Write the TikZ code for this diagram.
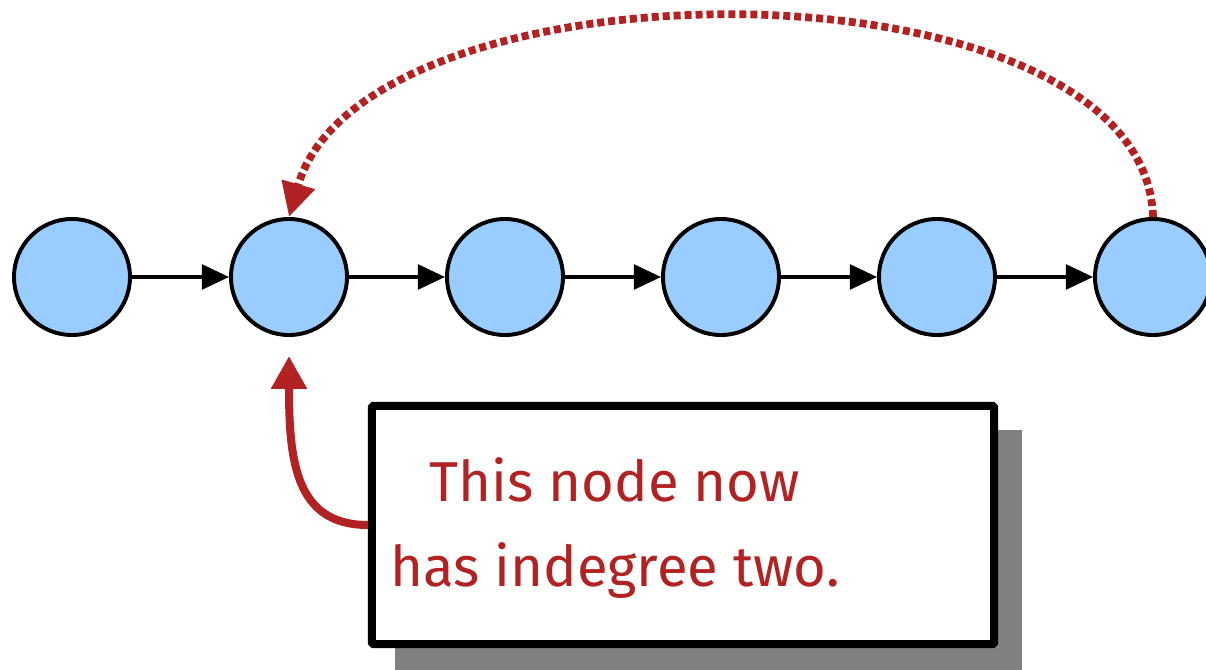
\documentclass[tikz,border=0pt]{standalone}
\usepackage{fontspec}
\setmainfont{Fira Sans}
\usetikzlibrary{arrows.meta}
\definecolor{nodeblue}{HTML}{99CCFF}
\definecolor{callred}{HTML}{B22222}
\definecolor{shadowgray}{HTML}{808080}
\begin{document}
\begin{tikzpicture}[x=0.025cm,y=-0.025cm,
  vert/.style={circle,draw=black,line width=2.8pt,fill=nodeblue,minimum size=2.9cm,inner sep=0pt},
  edge/.style={line width=2.5pt,-{Triangle[length=0.68cm,width=0.62cm]}},
  back/.style={callred,line width=5.5pt,dash pattern=on 5pt off 2.8pt,-{Triangle[length=0.85cm,width=0.82cm]}},
  callout/.style={draw=black,line width=5.7pt,fill=white,minimum width=15.55cm,minimum height=5.95cm,inner sep=0pt,rounded corners=1pt},
  pointer/.style={callred,line width=5.7pt,-{Triangle[length=0.82cm,width=0.85cm]}},
  calltext/.style={text=callred,font=\fontsize{40}{61}\selectfont,align=center}
]
\useasboundingbox (0,0) rectangle (1206,670);
\clip (0,0) rectangle (1206,670);
\node[vert] (n1) at (72,277) {};
\node[vert] (n2) at (289,277) {};
\node[vert] (n3) at (505,277) {};
\node[vert] (n4) at (721,277) {};
\node[vert] (n5) at (937,277) {};
\node[vert] (n6) at (1153,277) {};
\draw[edge] (n1) -- (n2);
\draw[edge] (n2) -- (n3);
\draw[edge] (n3) -- (n4);
\draw[edge] (n4) -- (n5);
\draw[edge] (n5) -- (n6);
\draw[back] (n6.north) .. controls (1145,-48) and (365,-48) .. (n2.north);
\fill[shadowgray] (395,430) rectangle (1022,670);
\node[callout] (box) at (683,525) {};
\node[calltext] (txt) at (615,528) {This node now\\has indegree two.};
\coordinate (boxleft) at (box.west |- 0,525);
\draw[pointer] (boxleft) .. controls (295,525) and (289,460) .. (289,356);
\end{tikzpicture}
\end{document}
